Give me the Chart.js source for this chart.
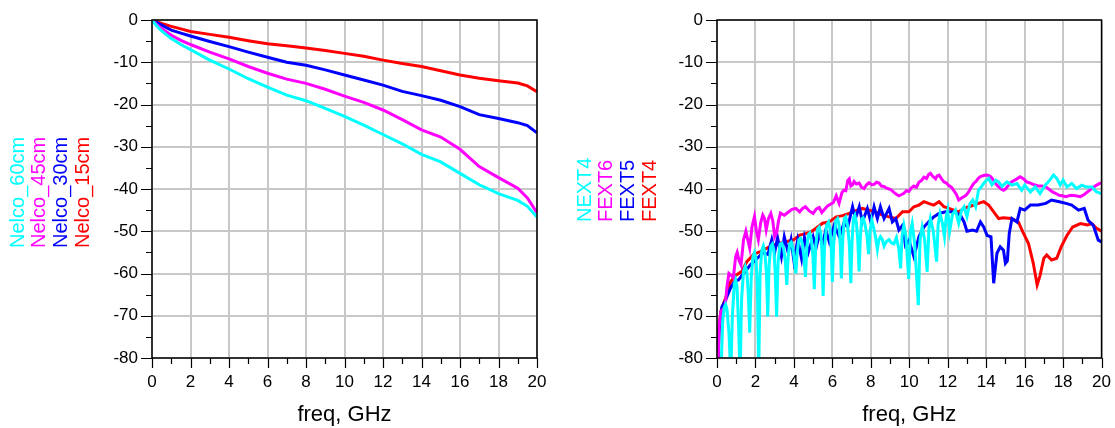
<!DOCTYPE html>
<html lang="en">
<head>
  <meta charset="UTF-8" />
  <title>Nelco loss and crosstalk</title>
  <script src="https://cdn.jsdelivr.net/npm/chart.js"></script>
  <style>
    body { margin: 0; background: #fff; width: 1115px; height: 428px; overflow: hidden; position: relative; }
    canvas { position: absolute; top: 0; }
    #lossChart { left: 0; }
    #xtalkChart { left: 560px; }
  </style>
</head>
<body>
  <canvas id="lossChart" width="557" height="428"></canvas>
  <canvas id="xtalkChart" width="555" height="428"></canvas>

  <script>
    // ---- left plot: insertion loss (dB) vs freq (GHz)
    const lossFreq = [0, 0.25, 0.5, 1, 1.5, 2, 3, 4, 5, 6, 7, 8, 9, 10, 11, 12, 13, 14, 15, 16, 17, 18, 19, 19.5, 20];
    const nelco60 = [0, -1.4, -2.6, -4.4, -5.8, -7, -9.5, -11.6, -13.9, -15.9, -17.8, -19.1, -20.9, -22.8, -24.9, -27.1, -29.3, -31.8, -33.6, -36.3, -39, -41.1, -42.7, -44.1, -46.6];
    const nelco45 = [0, -1.1, -2, -3.6, -4.8, -5.8, -7.6, -9.2, -11, -12.6, -14, -15, -16.4, -18, -19.5, -21.3, -23.6, -26, -27.7, -30.6, -34.7, -37.3, -39.8, -42.1, -45.6];
    const nelco30 = [0, -0.6, -1.2, -2.4, -3.1, -3.8, -5.1, -6.3, -7.6, -8.8, -10, -10.7, -11.8, -13, -14.2, -15.4, -16.9, -17.9, -19, -20.5, -22.4, -23.3, -24.3, -25, -26.7];
    const nelco15 = [0, -0.4, -0.8, -1.5, -2.1, -2.7, -3.4, -4.1, -4.9, -5.6, -6.1, -6.6, -7.2, -7.9, -8.6, -9.5, -10.3, -11, -12, -13, -13.8, -14.4, -14.9, -15.6, -17];

    // ---- right plot: crosstalk [freq GHz, dB]
    const next4 = [
      [0.2,-84],[0.3,-71],[0.38,-68],[0.45,-67.3],[0.52,-68.5],[0.62,-74],[0.72,-84],
      [0.8,-70],[0.9,-62.5],[0.97,-61.5],[1.04,-63],[1.12,-72],[1.2,-84],
      [1.28,-66],[1.38,-59.5],[1.47,-58.3],[1.55,-59.5],[1.63,-65],[1.7,-74],
      [1.78,-61],[1.87,-56],[1.95,-55],[2.03,-56.5],[2.1,-63],[2.17,-84],
      [2.24,-60],[2.33,-54.5],[2.41,-53.5],[2.49,-55],[2.57,-60],[2.64,-70.2],
      [2.71,-58],[2.8,-53.5],[2.88,-53],[2.96,-54.5],[3.03,-60],[3.1,-70.2],
      [3.18,-57],[3.28,-53],[3.37,-52.8],[3.46,-54],[3.55,-57],[3.63,-62.7],
      [3.7,-56],[3.78,-53],[3.86,-52.6],[3.94,-54],[4.02,-56.5],[4.1,-60],
      [4.17,-55],[4.26,-52],[4.35,-51.7],[4.44,-53],[4.52,-56],[4.6,-60.8],
      [4.67,-54],[4.75,-50.8],[4.83,-50.4],[4.91,-52],[4.99,-56],[5.06,-63.7],
      [5.13,-54],[5.23,-49.5],[5.32,-49],[5.4,-50.5],[5.46,-55],[5.52,-65.3],
      [5.59,-54],[5.7,-48.5],[5.8,-47.8],[5.88,-49.5],[5.94,-54],[6.0,-62],
      [6.07,-53],[6.18,-47.5],[6.27,-47],[6.35,-48.5],[6.41,-53],[6.47,-61.2],
      [6.54,-52],[6.62,-47],[6.7,-46.6],[6.79,-48.5],[6.88,-53],[6.96,-62.3],
      [7.03,-52],[7.1,-46.8],[7.17,-46.2],[7.25,-48],[7.32,-52],[7.39,-59.5],
      [7.46,-51],[7.53,-47],[7.6,-46.8],[7.7,-48.5],[7.8,-51],[7.88,-55.4],
      [7.96,-50],[8.05,-47.4],[8.14,-49],[8.25,-51.5],[8.34,-54.3],[8.42,-52],[8.5,-51.3],
      [8.6,-52],[8.69,-53.5],[8.8,-52.5],[8.95,-52],[9.08,-52.8],[9.2,-53],[9.33,-51.5],
      [9.45,-54],[9.55,-58.8],[9.63,-51],[9.72,-48.6],[9.82,-51],[9.97,-61.3],
      [10.06,-50],[10.15,-48.1],[10.28,-53],[10.47,-67.5],[10.56,-52],[10.67,-49],
      [10.8,-52],[10.93,-59.6],[11.02,-49.5],[11.1,-47],[11.25,-50],[11.42,-57.2],
      [11.5,-48.5],[11.6,-45.8],[11.72,-48],[11.83,-51.3],[11.92,-46.5],[12.0,-45],
      [12.1,-50],[12.25,-46],[12.4,-45],[12.57,-48.1],[12.72,-45],[12.85,-44.2],
      [13.0,-46.5],[13.15,-43.5],[13.3,-42.6],[13.45,-44.2],[13.6,-40.3],[13.75,-39.5],
      [13.87,-38.7],[14.0,-38],[14.13,-37.5],[14.3,-39],[14.5,-37.9],[14.65,-38.3],
      [14.82,-39.4],[15.08,-38.3],[15.34,-39.1],[15.6,-38.7],[15.85,-40.3],[16.0,-39.1],
      [16.3,-40.7],[16.55,-39.5],[16.8,-41.1],[17.07,-39.1],[17.24,-38.3],[17.5,-36.7],
      [17.67,-37.5],[17.85,-39.1],[18.0,-37.9],[18.2,-39.5],[18.45,-38.7],[18.7,-39.9],
      [18.97,-39.1],[19.2,-39.5],[19.5,-39.5],[19.74,-40.7],[20,-41.1]
    ];
    const fext6 = [
      [0.05,-82],[0.12,-72],[0.2,-69],[0.3,-68.5],[0.42,-68],[0.52,-63],[0.62,-60],[0.75,-60.5],
      [0.85,-61],[0.97,-56],[1.05,-55],[1.15,-57],[1.25,-58],[1.38,-52],[1.5,-50],[1.6,-52],
      [1.7,-54],[1.82,-49],[1.95,-46.5],[2.05,-50],[2.15,-52],[2.27,-48],[2.38,-46.2],[2.47,-47],
      [2.56,-49.7],[2.68,-47],[2.8,-45.8],[2.9,-47.5],[3.0,-51.3],[3.1,-50.4],[3.2,-47.5],[3.3,-45.7],
      [3.5,-46.2],[3.7,-45.5],[3.9,-44.8],[4.1,-44.6],[4.3,-45.4],[4.45,-44.6],[4.6,-44.2],[4.8,-45.2],
      [5.0,-45.8],[5.15,-44.8],[5.32,-44.4],[5.45,-45.6],[5.6,-44.8],[5.75,-44],[5.9,-43.6],[6.05,-43.2],
      [6.2,-41.6],[6.35,-43.4],[6.5,-40.8],[6.6,-40.3],[6.7,-40.4],[6.8,-38],[6.88,-37.6],[6.96,-39.3],
      [7.05,-39],[7.13,-38.2],[7.25,-38.8],[7.39,-38.6],[7.52,-39.6],[7.65,-39.9],[7.78,-39],[7.9,-38.5],
      [8.05,-39],[8.17,-38.9],[8.3,-38.4],[8.43,-38.6],[8.55,-39.3],[8.69,-39.4],[8.82,-39.8],[8.95,-40],
      [9.08,-40.3],[9.2,-40.8],[9.35,-41.3],[9.46,-41.6],[9.6,-41.3],[9.72,-41],[9.85,-40.4],[9.98,-40.6],
      [10.1,-39.8],[10.24,-39.3],[10.37,-39.6],[10.5,-38.4],[10.63,-38],[10.76,-37.2],[10.9,-37.5],[11.0,-36.6],
      [11.1,-36.3],[11.22,-37],[11.37,-37.6],[11.45,-36.9],[11.55,-36.7],[11.68,-37.6],[11.8,-38.3],[11.93,-38.6],
      [12.06,-39.2],[12.2,-39.6],[12.32,-40.4],[12.45,-41.3],[12.57,-42.6],[12.7,-42.2],[12.85,-41.8],[12.97,-41.4],
      [13.1,-40.6],[13.22,-39.6],[13.35,-38.7],[13.47,-38.2],[13.6,-37.4],[13.73,-37],[13.87,-36.8],[14.0,-36.7],
      [14.13,-36.8],[14.26,-37.2],[14.39,-38],[14.52,-38.9],[14.65,-39.5],[14.78,-40],[14.9,-40.3],[15.0,-40],
      [15.15,-39.2],[15.3,-38.4],[15.45,-38],[15.6,-37.6],[15.77,-37.1],[15.95,-37.6],[16.1,-38.3],[16.3,-38.6],
      [16.5,-39],[16.7,-39.3],[16.9,-39.3],[17.1,-39.5],[17.25,-40],[17.45,-40.7],[17.6,-41],[17.8,-41.5],
      [17.95,-41.6],[18.15,-41.8],[18.3,-41.6],[18.45,-41.5],[18.65,-41.6],[18.9,-41.8],[19.1,-41.3],[19.27,-40.7],
      [19.4,-40.2],[19.5,-39.9],[19.7,-39.2],[19.9,-38.7],[20,-38.6]
    ];
    const fext5 = [
      [0.05,-82],[0.1,-74],[0.25,-68],[0.43,-66.5],[0.7,-63.5],[0.9,-62],[1.12,-61.5],[1.38,-60],
      [1.73,-58],[2.07,-56.5],[2.42,-55],[2.65,-55.5],[2.85,-52],[3.0,-55],[3.15,-51.5],[3.35,-56],
      [3.5,-51.3],[3.7,-55],[3.85,-52],[4.0,-57],[4.2,-52],[4.4,-56.5],[4.55,-51.5],[4.75,-55],
      [5.0,-51.3],[5.15,-54],[5.32,-50.8],[5.49,-53],[5.66,-49.7],[5.84,-52.5],[6.1,-48.5],[6.36,-51.3],
      [6.6,-48.1],[6.8,-49],[7.05,-44.2],[7.2,-47],[7.4,-44.2],[7.56,-47.8],[7.82,-44.6],[8.0,-47.8],
      [8.17,-44.2],[8.34,-47],[8.5,-44.2],[8.69,-47],[8.95,-44.6],[9.12,-47.8],[9.3,-47],[9.46,-49.7],
      [9.65,-48.6],[9.8,-53.3],[9.98,-52.1],[10.24,-56],[10.5,-51.3],[10.76,-49],[11.0,-47.8],[11.27,-46.6],
      [11.55,-45.8],[11.9,-45.4],[12.32,-45.4],[12.66,-46.2],[12.85,-47.8],[13.0,-50],[13.3,-49.7],[13.5,-50],
      [13.7,-47.8],[13.87,-49],[14.05,-51],[14.25,-51.3],[14.39,-62.3],[14.56,-55.2],[14.73,-53.7],[14.9,-54.5],
      [15.0,-57.6],[15.1,-57],[15.2,-50.5],[15.34,-47],[15.6,-47.8],[15.77,-44.6],[16.0,-45],[16.3,-43.8],
      [16.7,-43.8],[17.1,-43.4],[17.4,-42.6],[17.8,-43],[18.15,-43.4],[18.45,-43.8],[18.8,-45],[19.1,-44.6],
      [19.3,-47.4],[19.57,-48.6],[19.83,-52.1],[20,-52.5]
    ];
    const fext4 = [
      [0.05,-82],[0.1,-73],[0.2,-69],[0.35,-67],[0.52,-65],[0.7,-62],[0.95,-60.5],[1.3,-59.5],
      [1.55,-57.2],[1.9,-55.5],[2.25,-54.8],[2.6,-54],[2.9,-53.3],[3.3,-52.8],[3.6,-52.5],[4.0,-52],
      [4.3,-50.9],[4.65,-50.5],[4.9,-50.1],[5.15,-49.3],[5.49,-48.1],[5.84,-47.8],[6.2,-46.6],[6.53,-46.3],
      [6.87,-45.8],[7.2,-45.2],[7.56,-44.6],[7.9,-45],[8.25,-45.4],[8.6,-46.2],[8.95,-46.6],[9.3,-47],
      [9.65,-45.4],[9.98,-45.4],[10.24,-44.2],[10.5,-43.8],[10.76,-43],[11.0,-43.4],[11.27,-43.8],[11.55,-43],
      [11.8,-44.2],[12.06,-44.6],[12.32,-45],[12.57,-45.4],[12.85,-44.6],[13.1,-44.2],[13.35,-43.8],[13.6,-43.4],
      [13.87,-43],[14.13,-43.8],[14.39,-45.4],[14.65,-47],[14.9,-46.8],[15.3,-47],[15.67,-47.8],[15.9,-50.1],
      [16.2,-52.9],[16.45,-57.6],[16.65,-62.7],[16.8,-60.5],[17.0,-56.4],[17.15,-55.6],[17.4,-56.8],[17.67,-56.4],
      [17.9,-53.7],[18.2,-51],[18.5,-49],[18.9,-48.2],[19.27,-48.5],[19.5,-48.2],[19.74,-49.3],[20,-50]
    ];

    const lossNames = ['Nelco_60cm', 'Nelco_45cm', 'Nelco_30cm', 'Nelco_15cm'];
    const xtalkNames = ['NEXT4', 'FEXT6', 'FEXT5', 'FEXT4'];
    const traceColors = ['#00ffff', '#ff00ff', '#0000ff', '#ff0000'];

    Chart.defaults.font.family = '"Liberation Sans", Arial, sans-serif';
    Chart.defaults.color = '#000';

    // box round the plot + short tick marks, long on labelled values
    const boxTicks = {
      id: 'boxTicks',
      afterDraw(chart) {
        const { ctx, chartArea: a, scales: { x, y } } = chart;
        ctx.save();
        ctx.strokeStyle = '#000';
        ctx.lineWidth = 1.5;
        ctx.strokeRect(a.left, a.top, a.right - a.left, a.bottom - a.top);
        ctx.beginPath();
        y.ticks.forEach(t => {
          const py = Math.round(y.getPixelForValue(t.value)) + 0.5;
          const len = t.value % 10 === 0 ? 11 : 6;
          ctx.moveTo(a.left - len, py); ctx.lineTo(a.left, py);
        });
        x.ticks.forEach(t => {
          const px = Math.round(x.getPixelForValue(t.value)) + 0.5;
          const len = t.value % 2 === 0 ? 10 : 6;
          ctx.moveTo(px, a.bottom); ctx.lineTo(px, a.bottom + len);
        });
        ctx.lineWidth = 1.2;
        ctx.stroke();
        ctx.restore();
      }
    };

    // vertical trace names on the left side
    const sideNames = {
      id: 'sideNames',
      afterDraw(chart, args, opts) {
        const { ctx } = chart;
        ctx.save();
        ctx.font = '20px "Liberation Sans", Arial, sans-serif';
        ctx.textAlign = 'left';
        ctx.textBaseline = 'middle';
        opts.names.forEach((n, i) => {
          ctx.save();
          ctx.translate(opts.x0 + i * opts.step, opts.bottom);
          ctx.rotate(-Math.PI / 2);
          ctx.fillStyle = traceColors[i];
          ctx.fillText(n, 0, 0);
          ctx.restore();
        });
        ctx.restore();
      }
    };

    function makeOptions(yWidth, padRight, legendOpts) {
      return {
        responsive: false,
        animation: false,
        layout: { padding: { top: 20, right: padRight, bottom: 0, left: 0 } },
        elements: { point: { radius: 0 }, line: { borderWidth: 3, tension: 0 } },
        plugins: { legend: { display: false }, tooltip: { enabled: false }, sideNames: legendOpts },
        scales: {
          x: {
            type: 'linear', min: 0, max: 20,
            afterFit: s => { s.height = 70; },
            border: { display: false },
            grid: {
              color: c => c.tick && c.tick.value % 2 === 0 ? '#c8c8c8' : 'rgba(0,0,0,0)',
              lineWidth: 2, tickLength: 10, tickColor: 'rgba(0,0,0,0)'
            },
            ticks: {
              stepSize: 1, autoSkip: false, maxRotation: 0, padding: 4,
              font: { size: 17 },
              callback: v => v % 2 === 0 ? v : ''
            },
            title: { display: true, text: 'freq, GHz', font: { size: 22 }, padding: { top: 0, bottom: 0 } }
          },
          y: {
            min: -80, max: 0,
            afterFit: s => { s.width = yWidth; },
            border: { display: false },
            grid: {
              color: c => c.tick && c.tick.value % 10 === 0 ? '#c8c8c8' : 'rgba(0,0,0,0)',
              lineWidth: 2, tickLength: 11, tickColor: 'rgba(0,0,0,0)'
            },
            ticks: {
              stepSize: 5, autoSkip: false, padding: 3,
              font: { size: 17 },
              callback: v => v % 10 === 0 ? v : ''
            }
          }
        }
      };
    }

    new Chart(document.getElementById('lossChart'), {
      type: 'line',
      data: {
        datasets: [nelco60, nelco45, nelco30, nelco15].map((vals, i) => ({
          label: lossNames[i],
          data: vals.map((v, k) => ({ x: lossFreq[k], y: v })),
          borderColor: traceColors[i]
        }))
      },
      options: makeOptions(152, 20, { names: lossNames, x0: 18, step: 21.7, bottom: 248 }),
      plugins: [boxTicks, sideNames]
    });

    new Chart(document.getElementById('xtalkChart'), {
      type: 'line',
      data: {
        datasets: [next4, fext6, fext5, fext4].map((pts, i) => ({
          label: xtalkNames[i],
          data: pts.map(([f, db]) => ({ x: f, y: db })),
          borderColor: traceColors[i]
        }))
      },
      options: makeOptions(157, 12, { names: xtalkNames, x0: 25, step: 21.7, bottom: 222 }),
      plugins: [boxTicks, sideNames]
    });
  </script>
</body>
</html>
